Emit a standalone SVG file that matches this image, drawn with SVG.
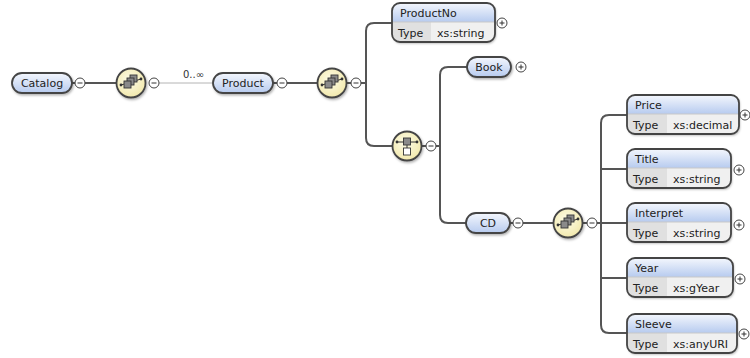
<svg xmlns="http://www.w3.org/2000/svg" width="750" height="358" viewBox="0 0 750 358">
<defs>
<style>
text{font-family:"DejaVu Sans","Liberation Sans",sans-serif;font-size:11px;fill:#222}
.pill{fill:url(#blue);stroke:#444;stroke-width:1.8}
.box{fill:none;stroke:#444;stroke-width:1.8}
.boxbg{fill:#f0f0f0}
.hdr{fill:url(#blue)}
.tcell{fill:#e0e0e0}
.sep{stroke:#c8c8c8;stroke-width:1}
.comp{fill:url(#yellow);stroke:#444;stroke-width:1.8}
.con{fill:none;stroke:#555;stroke-width:2}
.thin{fill:none;stroke:#b4b4b4;stroke-width:1}
.pm{fill:#fff;stroke:#444;stroke-width:1}
.pmsign{stroke:#333;stroke-width:1}
.sq{fill:#8a8a8a;stroke:#333;stroke-width:0.9}
.sqw{fill:#fff;stroke:#333;stroke-width:0.9}
.ic{stroke:#333;stroke-width:1}
.lbl{font-size:10px;fill:#333}
</style>
<linearGradient id="blue" x1="0" y1="0" x2="0" y2="1">
<stop offset="0" stop-color="#f4f7fd"/>
<stop offset="1" stop-color="#b7cbef"/>
</linearGradient>
<radialGradient id="yellow" cx="0.45" cy="0.4" r="0.6">
<stop offset="0" stop-color="#fdfce8"/>
<stop offset="1" stop-color="#f2e9ad"/>
</radialGradient>
<filter id="sh" x="-20%" y="-20%" width="140%" height="150%">
<feDropShadow dx="1" dy="1.5" stdDeviation="1" flood-color="#000" flood-opacity="0.3"/>
</filter>
<g id="minus"><circle class="pm" r="5"/><line class="pmsign" x1="-2.5" y1="0" x2="2.5" y2="0"/></g>
<g id="plus"><circle class="pm" r="5"/><line class="pmsign" x1="-2.5" y1="0" x2="2.5" y2="0"/><line class="pmsign" x1="0" y1="-2.5" x2="0" y2="2.5"/></g>
<g id="seq">
<circle class="comp" r="14.5" filter="url(#sh)"/>
<line class="ic" x1="-10" y1="2" x2="10" y2="-4"/>
<circle cx="-10" cy="2" r="1.4" fill="#333"/>
<circle cx="10" cy="-4" r="1.4" fill="#333"/>
<rect class="sq" x="-1" y="-8" width="7" height="7"/>
<rect class="sq" x="-4" y="-5" width="7" height="7"/>
<rect class="sq" x="-7" y="-2" width="7" height="7"/>
</g>
<g id="choice">
<circle class="comp" r="14.5" filter="url(#sh)"/>
<line class="ic" x1="-10" y1="-4" x2="10" y2="-4"/>
<circle cx="-10" cy="-4" r="1.4" fill="#333"/>
<circle cx="10" cy="-4" r="1.4" fill="#333"/>
<rect class="sq" x="-3.5" y="-8" width="7" height="7"/>
<line class="ic" x1="0" y1="-1" x2="0" y2="2"/>
<rect class="sqw" x="-3.5" y="2" width="7" height="7"/>
</g>
</defs>
<rect width="750" height="358" fill="#fff"/>

<g id="connectors">
<line class="con" x1="72" y1="83" x2="117" y2="83"/>
<line class="thin" x1="159" y1="83" x2="213" y2="83"/>
<line class="con" x1="273" y1="83" x2="319" y2="83"/>
<path class="con" d="M346,83 H366 M366,83 V31 Q366,23 374,23 H392 M366,83 V138 Q366,146 374,146 H393"/>
<path class="con" d="M420,146 H440 M440,146 V75 Q440,67 448,67 H467 M440,146 V215 Q440,223 448,223 H466"/>
<line class="con" x1="510" y1="223" x2="554" y2="223"/>
<path class="con" d="M582,223 H601 M601,223 V123 Q601,115 609,115 H627 M601,223 V325 Q601,333 609,333 H627 M601,169 H627 M601,223 H627 M601,278 H627"/>
<text class="lbl" x="183" y="78">0..∞</text>
</g>

<g id="Catalog">
<rect class="pill" x="12" y="73" width="60" height="20" rx="10" filter="url(#sh)"/>
<text x="42" y="87" text-anchor="middle">Catalog</text>
<use href="#minus" x="80" y="83"/>
</g>

<g id="seq1">
<use href="#seq" x="131" y="83"/>
<use href="#minus" x="154" y="83"/>
</g>

<g id="Product">
<rect class="pill" x="213" y="73" width="60" height="20" rx="10" filter="url(#sh)"/>
<text x="243" y="87" text-anchor="middle">Product</text>
<use href="#minus" x="282" y="83"/>
</g>

<g id="seq2">
<use href="#seq" x="332" y="83"/>
<use href="#minus" x="356" y="83"/>
</g>

<g id="ProductNo">
<g filter="url(#sh)"><rect class="boxbg" x="392" y="3" width="103" height="39" rx="8"/></g>
<path class="hdr" d="M392,22 V11 Q392,3 400,3 H487 Q495,3 495,11 V22 Z"/>
<path class="tcell" d="M392,22 H431 V42 H400 Q392,42 392,34 Z"/>
<line class="sep" x1="392" y1="22" x2="495" y2="22"/>
<rect class="box" x="392" y="3" width="103" height="39" rx="8"/>
<text x="400" y="17">ProductNo</text>
<text x="398" y="37">Type</text>
<text x="437" y="37">xs:string</text>
<use href="#plus" x="502" y="23"/>
</g>

<g id="choice1">
<use href="#choice" x="407" y="146"/>
<use href="#minus" x="431" y="146"/>
</g>

<g id="Book">
<rect class="pill" x="467" y="57" width="44" height="20" rx="10" filter="url(#sh)"/>
<text x="489" y="71" text-anchor="middle">Book</text>
<use href="#plus" x="521" y="67"/>
</g>

<g id="CD">
<rect class="pill" x="466" y="213" width="44" height="20" rx="10" filter="url(#sh)"/>
<text x="488" y="227" text-anchor="middle">CD</text>
<use href="#minus" x="518" y="223"/>
</g>

<g id="seq3">
<use href="#seq" x="568" y="223"/>
<use href="#minus" x="592" y="223"/>
</g>

<g id="Price">
<g filter="url(#sh)"><rect class="boxbg" x="627" y="95" width="112" height="39" rx="8"/></g>
<path class="hdr" d="M627,114 V103 Q627,95 635,95 H731 Q739,95 739,103 V114 Z"/>
<path class="tcell" d="M627,114 H667 V134 H635 Q627,134 627,126 Z"/>
<line class="sep" x1="627" y1="114" x2="739" y2="114"/>
<rect class="box" x="627" y="95" width="112" height="39" rx="8"/>
<text x="635" y="109">Price</text>
<text x="633" y="129">Type</text>
<text x="673" y="129">xs:decimal</text>
<use href="#plus" x="745" y="115"/>
</g>

<g id="Title">
<g filter="url(#sh)"><rect class="boxbg" x="627" y="149" width="104" height="39" rx="8"/></g>
<path class="hdr" d="M627,168 V157 Q627,149 635,149 H723 Q731,149 731,157 V168 Z"/>
<path class="tcell" d="M627,168 H667 V188 H635 Q627,188 627,180 Z"/>
<line class="sep" x1="627" y1="168" x2="731" y2="168"/>
<rect class="box" x="627" y="149" width="104" height="39" rx="8"/>
<text x="635" y="163">Title</text>
<text x="633" y="183">Type</text>
<text x="673" y="183">xs:string</text>
<use href="#plus" x="739" y="170"/>
</g>

<g id="Interpret">
<g filter="url(#sh)"><rect class="boxbg" x="627" y="203" width="104" height="39" rx="8"/></g>
<path class="hdr" d="M627,222 V211 Q627,203 635,203 H723 Q731,203 731,211 V222 Z"/>
<path class="tcell" d="M627,222 H667 V242 H635 Q627,242 627,234 Z"/>
<line class="sep" x1="627" y1="222" x2="731" y2="222"/>
<rect class="box" x="627" y="203" width="104" height="39" rx="8"/>
<text x="635" y="217">Interpret</text>
<text x="633" y="237">Type</text>
<text x="673" y="237">xs:string</text>
<use href="#plus" x="739" y="225"/>
</g>

<g id="Year">
<g filter="url(#sh)"><rect class="boxbg" x="627" y="258" width="106" height="39" rx="8"/></g>
<path class="hdr" d="M627,277 V266 Q627,258 635,258 H725 Q733,258 733,266 V277 Z"/>
<path class="tcell" d="M627,277 H667 V297 H635 Q627,297 627,289 Z"/>
<line class="sep" x1="627" y1="277" x2="733" y2="277"/>
<rect class="box" x="627" y="258" width="106" height="39" rx="8"/>
<text x="635" y="272">Year</text>
<text x="633" y="292">Type</text>
<text x="673" y="292">xs:gYear</text>
<use href="#plus" x="740" y="279"/>
</g>

<g id="Sleeve">
<g filter="url(#sh)"><rect class="boxbg" x="627" y="314" width="110" height="39" rx="8"/></g>
<path class="hdr" d="M627,333 V322 Q627,314 635,314 H729 Q737,314 737,322 V333 Z"/>
<path class="tcell" d="M627,333 H667 V353 H635 Q627,353 627,345 Z"/>
<line class="sep" x1="627" y1="333" x2="737" y2="333"/>
<rect class="box" x="627" y="314" width="110" height="39" rx="8"/>
<text x="635" y="328">Sleeve</text>
<text x="633" y="348">Type</text>
<text x="673" y="348">xs:anyURI</text>
<use href="#plus" x="744" y="334"/>
</g>
</svg>
